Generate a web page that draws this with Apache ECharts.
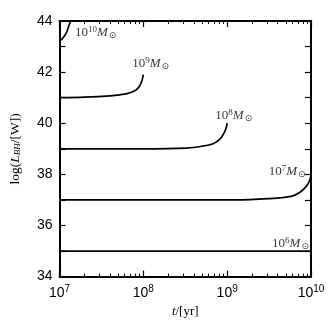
<!DOCTYPE html>
<html>
<head>
<meta charset="utf-8">
<script src="https://cdn.jsdelivr.net/npm/echarts@6/dist/echarts.min.js"></script>
<style>
  html, body { margin: 0; padding: 0; background: #fff; }
  #chart { width: 333px; height: 323px; }
</style>
</head>
<body>
<div id="chart"></div>
<script>
// ages t [yr] and log luminosity
const m10 = [[1.0e7, 43.22], [1.07e7, 43.29], [1.15e7, 43.42], [1.23e7, 43.6], [1.29e7, 43.8], [1.35e7, 44.0]]
const m9 = [[1e7, 41.0], [2e7, 41.02], [3.6e7, 41.06], [6.2e7, 41.15], [8e7, 41.28], [9.0e7, 41.45], [9.6e7, 41.65], [1.0e8, 41.9]]
const m8 = [[1e7, 39.0], [1e8, 39.0], [3.3e8, 39.03], [5e8, 39.1], [6.8e8, 39.2], [8.3e8, 39.4], [9.3e8, 39.65], [9.8e8, 39.85], [1.0e9, 40.0]]
const m7 = [[1e7, 37.0], [1.26e9, 37.0], [3.1e9, 37.05], [5.8e9, 37.14], [7.4e9, 37.3], [8.9e9, 37.55], [9.6e9, 37.75], [1.0e10, 37.95]]
const m6 = [[1e7, 35.0], [1e10, 35.0]]
const massExp = [10, 9, 8, 7, 6]
const labelAt = [[2.7e7, 43.53], [1.22e8, 42.33], [1.2e9, 40.3], [5.2e9, 38.1], [5.7e9, 35.28]]
const xTickExp = [7, 8, 9, 10]
const yTicks = [34, 36, 38, 40, 42, 44]

const lg = v => Math.log10(v)
const toLog = arr => arr.map(p => [lg(p[0]), p[1]])

const minorX = []
xTickExp.slice(0, -1).forEach(e => {
  for (let k = 2; k <= 9; k++) minorX.push(lg(k * Math.pow(10, e)))
})

const sans = "Liberation Sans, Arial, sans-serif"
const serif = "Liberation Serif, DejaVu Serif, serif"

const baseX = {
  type: "value", min: xTickExp[0], max: xTickExp[xTickExp.length - 1], interval: 1,
  splitLine: { show: false },
}
const xMajor = pos => ({
  ...baseX, position: pos,
  axisLine: { lineStyle: { color: "#000", width: 2 } },
  axisTick: { inside: true, length: 6, lineStyle: { color: "#000", width: 1.2 } },
  axisLabel: { show: false },
})
const xMinor = pos => ({
  ...baseX, position: pos,
  axisLine: { show: false },
  axisTick: { inside: true, length: 3, customValues: minorX, lineStyle: { color: "#000", width: 1 } },
  axisLabel: { show: false },
})

const bottom = xMajor("bottom")
bottom.axisLabel = {
  show: true, margin: 8, color: "#000",
  formatter: v => "{b|10}{s|" + Math.round(v) + "}",
  rich: {
    b: { fontFamily: sans, fontSize: 14, color: "#000" },
    s: { fontFamily: sans, fontSize: 10, color: "#000", verticalAlign: "top", padding: [0, 0, 7, 0] },
  },
}
bottom.name = "{i|t}{r|/[yr]}"
bottom.nameLocation = "middle"
bottom.nameGap = 27
bottom.nameTextStyle = {
  rich: {
    i: { fontFamily: serif, fontStyle: "italic", fontSize: 13, color: "#000" },
    r: { fontFamily: serif, fontSize: 13, color: "#000" },
  },
}

const yAx = pos => ({
  type: "value", position: pos, min: 34, max: 44, interval: 1,
  splitLine: { show: false },
  axisLine: { onZero: false, lineStyle: { color: "#000", width: 2 } },
  axisTick: { inside: true, length: 6, lineStyle: { color: "#000", width: 1.2 } },
  axisLabel: { show: false },
})
const left = yAx("left")
left.axisLabel = {
  show: true, margin: 7, color: "#000", fontFamily: sans, fontSize: 14,
  formatter: v => (yTicks.includes(v) ? String(v) : ""),
}
left.name = "{r|log(}{i|L}{sub|BH}{r|/[W])}"
left.nameLocation = "middle"
left.nameGap = 37
left.nameRotate = 90
left.nameTextStyle = {
  rich: {
    r: { fontFamily: serif, fontSize: 13.5, color: "#000" },
    i: { fontFamily: serif, fontStyle: "italic", fontSize: 13.5, color: "#000" },
    sub: { fontFamily: serif, fontStyle: "italic", fontSize: 9, color: "#000", verticalAlign: "bottom", padding: [6, 0, 0, 0] },
  },
}

const curves = [m10, m9, m8, m7, m6]
const series = curves.map(c => ({
  type: "line", data: toLog(c), showSymbol: false, smooth: 0.3,
  lineStyle: { color: "#000", width: 1.7 }, silent: true, clip: true,
}))
series.push({
  type: "scatter", symbolSize: 0, silent: true,
  data: labelAt.map((p, i) => ({ value: [lg(p[0]), p[1]], exp: massExp[i] })),
  label: {
    show: true, position: "inside",
    formatter: p => "{r|10}{s|" + p.data.exp + "}{m|M}{o|⊙}",
    rich: {
      r: { fontFamily: serif, fontSize: 13, color: "#000" },
      s: { fontFamily: serif, fontSize: 9, color: "#000", verticalAlign: "top", padding: [0, 0, 6, 0] },
      m: { fontFamily: serif, fontStyle: "italic", fontSize: 13, color: "#000" },
      o: { fontFamily: "DejaVu Sans, sans-serif", fontSize: 9, color: "#000", verticalAlign: "bottom", padding: [6, 0, 0, 1] },
    },
  },
})

const chart = echarts.init(document.getElementById("chart"), null, { renderer: "canvas" })
chart.setOption({
  animation: false,
  backgroundColor: "#fff",
  grid: { left: 52, right: 22, top: 21, bottom: 44, containLabel: false },
  xAxis: [bottom, xMinor("bottom"), xMajor("top"), xMinor("top")],
  yAxis: [left, yAx("right")],
  series,
})
</script>
</body>
</html>
